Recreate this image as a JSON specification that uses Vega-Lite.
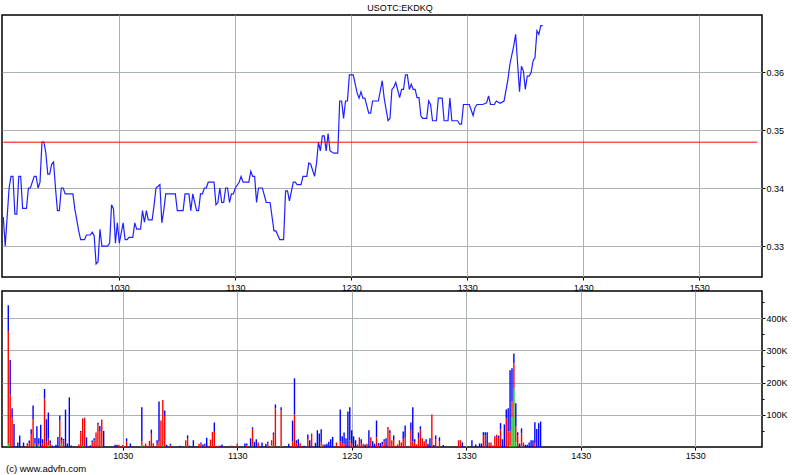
{
  "$schema": "https://vega.github.io/schema/vega-lite/v6.json",
  "background": "white",
  "padding": {"left": 0, "top": 3, "right": 0, "bottom": 0},
  "spacing": 14,
  "bounds": "flush",
  "config": {
    "font": "Liberation Sans",
    "view": {"stroke": "black", "strokeWidth": 1.5},
    "axis": {
      "domain": false,
      "labelFont": "Liberation Sans",
      "labelFontSize": 9,
      "labelColor": "black",
      "tickColor": "black",
      "tickSize": 3,
      "labelPadding": 1,
      "gridColor": "#a9b1b1",
      "gridWidth": 1,
      "title": null
    },
    "title": {"font": "Liberation Sans", "fontSize": 9, "fontWeight": "normal", "color": "black"}
  },
  "vconcat": [
    {
      "width": 760,
      "height": 262,
      "title": {"text": "USOTC:EKDKQ", "anchor": "middle", "offset": 2, "dx": 18},
      "layer": [
        {
          "data": {
            "values": [
              {"t": "09:30", "p": 0.3350}, {"t": "09:31", "p": 0.3300}, {"t": "09:33", "p": 0.3400}, {"t": "09:34", "p": 0.3420},
              {"t": "09:35", "p": 0.3420}, {"t": "09:36", "p": 0.3355}, {"t": "09:37", "p": 0.3355}, {"t": "09:38", "p": 0.3420},
              {"t": "09:39", "p": 0.3420}, {"t": "09:40", "p": 0.3365}, {"t": "09:42", "p": 0.3365}, {"t": "09:43", "p": 0.3400},
              {"t": "09:44", "p": 0.3400}, {"t": "09:46", "p": 0.3420}, {"t": "09:47", "p": 0.3420}, {"t": "09:48", "p": 0.3400},
              {"t": "09:49", "p": 0.3410}, {"t": "09:50", "p": 0.3479}, {"t": "09:51", "p": 0.3479}, {"t": "09:52", "p": 0.3461},
              {"t": "09:53", "p": 0.3424}, {"t": "09:54", "p": 0.3424}, {"t": "09:55", "p": 0.3441}, {"t": "09:56", "p": 0.3445},
              {"t": "09:57", "p": 0.3400}, {"t": "09:58", "p": 0.3361}, {"t": "09:59", "p": 0.3361}, {"t": "10:00", "p": 0.3400},
              {"t": "10:01", "p": 0.3400}, {"t": "10:02", "p": 0.3390}, {"t": "10:06", "p": 0.3390}, {"t": "10:07", "p": 0.3364},
              {"t": "10:09", "p": 0.3326}, {"t": "10:10", "p": 0.3311}, {"t": "10:12", "p": 0.3311}, {"t": "10:13", "p": 0.3319},
              {"t": "10:15", "p": 0.3319}, {"t": "10:16", "p": 0.3324}, {"t": "10:17", "p": 0.3318}, {"t": "10:18", "p": 0.3269},
              {"t": "10:19", "p": 0.3273}, {"t": "10:20", "p": 0.3329}, {"t": "10:21", "p": 0.3300}, {"t": "10:24", "p": 0.3300},
              {"t": "10:25", "p": 0.3305}, {"t": "10:26", "p": 0.3371}, {"t": "10:27", "p": 0.3364}, {"t": "10:28", "p": 0.3305},
              {"t": "10:29", "p": 0.3340}, {"t": "10:30", "p": 0.3305}, {"t": "10:32", "p": 0.3340}, {"t": "10:33", "p": 0.3311},
              {"t": "10:34", "p": 0.3311}, {"t": "10:35", "p": 0.3315}, {"t": "10:37", "p": 0.3315}, {"t": "10:38", "p": 0.3340},
              {"t": "10:39", "p": 0.3329}, {"t": "10:41", "p": 0.3329}, {"t": "10:42", "p": 0.3361}, {"t": "10:43", "p": 0.3341},
              {"t": "10:44", "p": 0.3361}, {"t": "10:45", "p": 0.3345}, {"t": "10:47", "p": 0.3345}, {"t": "10:48", "p": 0.3371},
              {"t": "10:49", "p": 0.3400}, {"t": "10:51", "p": 0.3406}, {"t": "10:52", "p": 0.3340}, {"t": "10:53", "p": 0.3361},
              {"t": "10:54", "p": 0.3390}, {"t": "10:59", "p": 0.3390}, {"t": "11:00", "p": 0.3361}, {"t": "11:03", "p": 0.3361},
              {"t": "11:04", "p": 0.3390}, {"t": "11:06", "p": 0.3390}, {"t": "11:07", "p": 0.3361}, {"t": "11:08", "p": 0.3390},
              {"t": "11:10", "p": 0.3361}, {"t": "11:11", "p": 0.3361}, {"t": "11:12", "p": 0.3390}, {"t": "11:13", "p": 0.3390},
              {"t": "11:14", "p": 0.3400}, {"t": "11:15", "p": 0.3400}, {"t": "11:16", "p": 0.3410}, {"t": "11:19", "p": 0.3410},
              {"t": "11:20", "p": 0.3371}, {"t": "11:21", "p": 0.3375}, {"t": "11:22", "p": 0.3400}, {"t": "11:23", "p": 0.3375},
              {"t": "11:24", "p": 0.3375}, {"t": "11:25", "p": 0.3400}, {"t": "11:26", "p": 0.3400}, {"t": "11:27", "p": 0.3375},
              {"t": "11:28", "p": 0.3390}, {"t": "11:29", "p": 0.3390}, {"t": "11:30", "p": 0.3400}, {"t": "11:32", "p": 0.3410},
              {"t": "11:33", "p": 0.3420}, {"t": "11:34", "p": 0.3410}, {"t": "11:37", "p": 0.3410}, {"t": "11:38", "p": 0.3429},
              {"t": "11:39", "p": 0.3420}, {"t": "11:40", "p": 0.3420}, {"t": "11:41", "p": 0.3375}, {"t": "11:42", "p": 0.3400},
              {"t": "11:44", "p": 0.3400}, {"t": "11:46", "p": 0.3375}, {"t": "11:48", "p": 0.3375}, {"t": "11:50", "p": 0.3326},
              {"t": "11:51", "p": 0.3326}, {"t": "11:53", "p": 0.3311}, {"t": "11:55", "p": 0.3311}, {"t": "11:56", "p": 0.3395},
              {"t": "11:57", "p": 0.3395}, {"t": "11:58", "p": 0.3378}, {"t": "12:00", "p": 0.3410}, {"t": "12:01", "p": 0.3410},
              {"t": "12:02", "p": 0.3406}, {"t": "12:04", "p": 0.3406}, {"t": "12:05", "p": 0.3420}, {"t": "12:07", "p": 0.3420},
              {"t": "12:08", "p": 0.3443}, {"t": "12:09", "p": 0.3441}, {"t": "12:11", "p": 0.3420}, {"t": "12:12", "p": 0.3443},
              {"t": "12:13", "p": 0.3479}, {"t": "12:14", "p": 0.3464}, {"t": "12:15", "p": 0.3490}, {"t": "12:16", "p": 0.3490},
              {"t": "12:17", "p": 0.3464}, {"t": "12:18", "p": 0.3494}, {"t": "12:19", "p": 0.3464}, {"t": "12:21", "p": 0.3460},
              {"t": "12:23", "p": 0.3460}, {"t": "12:24", "p": 0.3550}, {"t": "12:25", "p": 0.3550}, {"t": "12:26", "p": 0.3520},
              {"t": "12:27", "p": 0.3550}, {"t": "12:28", "p": 0.3550}, {"t": "12:29", "p": 0.3595}, {"t": "12:31", "p": 0.3595},
              {"t": "12:33", "p": 0.3564}, {"t": "12:34", "p": 0.3555}, {"t": "12:35", "p": 0.3566}, {"t": "12:36", "p": 0.3555},
              {"t": "12:37", "p": 0.3555}, {"t": "12:39", "p": 0.3529}, {"t": "12:40", "p": 0.3529}, {"t": "12:41", "p": 0.3550},
              {"t": "12:44", "p": 0.3550}, {"t": "12:46", "p": 0.3585}, {"t": "12:47", "p": 0.3555}, {"t": "12:49", "p": 0.3516},
              {"t": "12:50", "p": 0.3520}, {"t": "12:51", "p": 0.3570}, {"t": "12:52", "p": 0.3574}, {"t": "12:53", "p": 0.3582},
              {"t": "12:55", "p": 0.3556}, {"t": "12:56", "p": 0.3570}, {"t": "12:57", "p": 0.3570}, {"t": "12:58", "p": 0.3595},
              {"t": "12:59", "p": 0.3595}, {"t": "13:00", "p": 0.3570}, {"t": "13:01", "p": 0.3579}, {"t": "13:02", "p": 0.3570},
              {"t": "13:03", "p": 0.3570}, {"t": "13:04", "p": 0.3556}, {"t": "13:05", "p": 0.3556}, {"t": "13:06", "p": 0.3524},
              {"t": "13:07", "p": 0.3520}, {"t": "13:09", "p": 0.3520}, {"t": "13:10", "p": 0.3550}, {"t": "13:11", "p": 0.3544},
              {"t": "13:12", "p": 0.3516}, {"t": "13:14", "p": 0.3516}, {"t": "13:15", "p": 0.3555}, {"t": "13:17", "p": 0.3555},
              {"t": "13:18", "p": 0.3516}, {"t": "13:20", "p": 0.3516}, {"t": "13:21", "p": 0.3555}, {"t": "13:22", "p": 0.3516},
              {"t": "13:25", "p": 0.3516}, {"t": "13:26", "p": 0.3510}, {"t": "13:27", "p": 0.3510}, {"t": "13:28", "p": 0.3544},
              {"t": "13:31", "p": 0.3544}, {"t": "13:33", "p": 0.3525}, {"t": "13:34", "p": 0.3539}, {"t": "13:35", "p": 0.3544},
              {"t": "13:38", "p": 0.3544}, {"t": "13:40", "p": 0.3547}, {"t": "13:41", "p": 0.3559}, {"t": "13:42", "p": 0.3544},
              {"t": "13:44", "p": 0.3544}, {"t": "13:45", "p": 0.3550}, {"t": "13:47", "p": 0.3546}, {"t": "13:49", "p": 0.3550},
              {"t": "13:51", "p": 0.3587}, {"t": "13:52", "p": 0.3613}, {"t": "13:54", "p": 0.3645}, {"t": "13:55", "p": 0.3665},
              {"t": "13:57", "p": 0.3566}, {"t": "13:58", "p": 0.3610}, {"t": "13:59", "p": 0.3602}, {"t": "14:00", "p": 0.3570},
              {"t": "14:01", "p": 0.3593}, {"t": "14:02", "p": 0.3593}, {"t": "14:03", "p": 0.3599}, {"t": "14:04", "p": 0.3619},
              {"t": "14:05", "p": 0.3625}, {"t": "14:06", "p": 0.3671}, {"t": "14:07", "p": 0.3665}, {"t": "14:08", "p": 0.3680},
              {"t": "14:09", "p": 0.3680}
            ],
            "format": {"parse": {"t": "date:'%H:%M'"}}
          },
          "mark": {"type": "line", "color": "#2020ff", "strokeWidth": 1.2},
          "encoding": {
            "x": {
              "field": "t", "type": "temporal",
              "scale": {"domain": [
                {"year": 1900, "month": 1, "date": 1, "hours": 9, "minutes": 29, "seconds": 20},
                {"year": 1900, "month": 1, "date": 1, "hours": 16, "minutes": 2, "seconds": 25}
              ]},
              "axis": {
                "values": [
                  {"year": 1900, "month": 1, "date": 1, "hours": 10, "minutes": 30},
                  {"year": 1900, "month": 1, "date": 1, "hours": 11, "minutes": 30},
                  {"year": 1900, "month": 1, "date": 1, "hours": 12, "minutes": 30},
                  {"year": 1900, "month": 1, "date": 1, "hours": 13, "minutes": 30},
                  {"year": 1900, "month": 1, "date": 1, "hours": 14, "minutes": 30},
                  {"year": 1900, "month": 1, "date": 1, "hours": 15, "minutes": 30}
                ],
                "format": "%H%M", "grid": true, "labelFlush": false, "labelPadding": 3
              }
            },
            "y": {
              "field": "p", "type": "quantitative",
              "scale": {"domain": [0.32466, 0.36983], "zero": false, "nice": false},
              "axis": {
                "orient": "right",
                "values": [0.33, 0.335, 0.34, 0.345, 0.35, 0.355, 0.36, 0.365],
                "labelExpr": "abs(datum.value*100 - round(datum.value*100)) < 0.001 ? format(datum.value, '.2f') : ''",
                "grid": true,
                "gridOpacity": {"condition": {"test": "abs(datum.value*100 - round(datum.value*100)) < 0.001", "value": 1}, "value": 0},
                "tickSize": {"condition": {"test": "abs(datum.value*100 - round(datum.value*100)) < 0.001", "value": 3}, "value": 2}
              }
            }
          }
        },
        {
          "data": {"values": [{"t0": "09:30", "t1": "16:00", "prev_close": 0.3479}], "format": {"parse": {"t0": "date:'%H:%M'", "t1": "date:'%H:%M'"}}},
          "mark": {"type": "rule", "color": "#ff0000", "strokeWidth": 1},
          "encoding": {
            "x": {"field": "t0", "type": "temporal"},
            "x2": {"field": "t1"},
            "y": {"field": "prev_close", "type": "quantitative"}
          }
        },
        {
          "data": {"values": [{"t": "16:00"}], "format": {"parse": {"t": "date:'%H:%M'"}}},
          "mark": {"type": "rule", "color": "#808080", "strokeWidth": 1},
          "encoding": {"x": {"field": "t", "type": "temporal"}}
        }
      ]
    },
    {
      "width": 760,
      "height": 156,
      "title": {"text": "(c) www.advfn.com", "orient": "bottom", "anchor": "start", "offset": 4, "fontSize": 9.5, "dx": 4},
      "layer": [
        {
          "data": {
            "values": [
              {"t": "09:30", "bid": 350, "mid": 10, "ask": 80}, {"t": "09:31", "bid": 162, "ask": 108}, {"t": "09:32", "bid": 90, "ask": 30},
              {"t": "09:33", "ask": 71}, {"t": "09:35", "ask": 14}, {"t": "09:36", "ask": 36}, {"t": "09:38", "ask": 14},
              {"t": "09:40", "bid": 12}, {"t": "09:41", "bid": 12, "ask": 8}, {"t": "09:42", "bid": 40, "ask": 15},
              {"t": "09:43", "bid": 87, "ask": 42}, {"t": "09:44", "bid": 8, "mid": 4, "ask": 16}, {"t": "09:45", "ask": 64},
              {"t": "09:46", "bid": 5, "mid": 5, "ask": 17}, {"t": "09:47", "ask": 69}, {"t": "09:48", "bid": 12, "ask": 12},
              {"t": "09:49", "bid": 150, "ask": 30}, {"t": "09:50", "bid": 18, "ask": 68}, {"t": "09:51", "bid": 22, "mid": 4, "ask": 81},
              {"t": "09:52", "bid": 10, "ask": 10}, {"t": "09:53", "ask": 5}, {"t": "09:55", "ask": 7}, {"t": "09:56", "ask": 31},
              {"t": "09:57", "bid": 82, "ask": 16}, {"t": "09:58", "bid": 10, "mid": 10, "ask": 10}, {"t": "09:59", "bid": 20, "ask": 5},
              {"t": "10:00", "ask": 116}, {"t": "10:01", "ask": 11}, {"t": "10:02", "ask": 154}, {"t": "10:03", "ask": 5},
              {"t": "10:07", "bid": 8}, {"t": "10:08", "bid": 46, "ask": 4}, {"t": "10:09", "bid": 86, "mid": 3}, {"t": "10:10", "bid": 89, "ask": 2},
              {"t": "10:11", "ask": 30}, {"t": "10:13", "ask": 5}, {"t": "10:14", "bid": 15, "ask": 5}, {"t": "10:15", "bid": 20, "ask": 7},
              {"t": "10:16", "bid": 45}, {"t": "10:17", "bid": 69, "ask": 6}, {"t": "10:18", "bid": 50, "ask": 15}, {"t": "10:19", "bid": 82, "mid": 3},
              {"t": "10:20", "ask": 50}, {"t": "10:26", "ask": 7}, {"t": "10:27", "ask": 7}, {"t": "10:28", "bid": 7},
              {"t": "10:30", "bid": 6}, {"t": "10:32", "bid": 18, "ask": 9}, {"t": "10:34", "ask": 11}, {"t": "10:40", "bid": 12, "mid": 6, "ask": 105},
              {"t": "10:41", "bid": 5}, {"t": "10:42", "bid": 11}, {"t": "10:44", "bid": 19}, {"t": "10:45", "bid": 41, "ask": 13},
              {"t": "10:46", "bid": 12}, {"t": "10:48", "bid": 10, "ask": 11}, {"t": "10:49", "bid": 16, "ask": 125}, {"t": "10:50", "bid": 82},
              {"t": "10:51", "bid": 143, "mid": 3}, {"t": "10:52", "bid": 97, "ask": 16}, {"t": "10:53", "ask": 7}, {"t": "10:55", "bid": 5, "ask": 5},
              {"t": "11:00", "ask": 4}, {"t": "11:03", "bid": 21}, {"t": "11:04", "bid": 28, "ask": 8}, {"t": "11:05", "ask": 4},
              {"t": "11:07", "ask": 21}, {"t": "11:10", "bid": 10}, {"t": "11:11", "bid": 10, "ask": 4}, {"t": "11:12", "ask": 8},
              {"t": "11:13", "bid": 5, "ask": 5}, {"t": "11:14", "ask": 29}, {"t": "11:16", "bid": 23}, {"t": "11:17", "bid": 47},
              {"t": "11:18", "bid": 47, "ask": 29}, {"t": "11:20", "bid": 4}, {"t": "11:21", "ask": 4}, {"t": "11:22", "ask": 8},
              {"t": "11:26", "bid": 4}, {"t": "11:27", "bid": 4}, {"t": "11:30", "bid": 11}, {"t": "11:34", "ask": 11},
              {"t": "11:35", "bid": 5, "ask": 6}, {"t": "11:37", "ask": 27}, {"t": "11:38", "bid": 54, "mid": 2, "ask": 5}, {"t": "11:39", "ask": 16},
              {"t": "11:40", "ask": 24}, {"t": "11:41", "bid": 14}, {"t": "11:43", "ask": 14}, {"t": "11:45", "ask": 10},
              {"t": "11:46", "bid": 11, "ask": 5}, {"t": "11:48", "bid": 15, "mid": 6}, {"t": "11:49", "bid": 38, "ask": 7}, {"t": "11:50", "bid": 120, "ask": 12},
              {"t": "11:53", "bid": 110, "mid": 3, "ask": 10}, {"t": "11:57", "ask": 10}, {"t": "11:59", "bid": 18, "ask": 64},
              {"t": "12:00", "bid": 100, "mid": 1, "ask": 112}, {"t": "12:01", "bid": 12, "ask": 9}, {"t": "12:02", "ask": 24}, {"t": "12:03", "bid": 12},
              {"t": "12:05", "ask": 4}, {"t": "12:07", "bid": 25, "ask": 14}, {"t": "12:08", "ask": 21}, {"t": "12:09", "bid": 42},
              {"t": "12:11", "ask": 13}, {"t": "12:12", "ask": 52}, {"t": "12:13", "ask": 42}, {"t": "12:14", "bid": 10, "mid": 4, "ask": 41},
              {"t": "12:15", "bid": 8}, {"t": "12:16", "ask": 8}, {"t": "12:17", "ask": 10}, {"t": "12:18", "ask": 16},
              {"t": "12:19", "ask": 24}, {"t": "12:20", "ask": 31}, {"t": "12:22", "bid": 14}, {"t": "12:24", "bid": 18, "ask": 98},
              {"t": "12:25", "bid": 10, "ask": 23}, {"t": "12:26", "bid": 10, "ask": 35}, {"t": "12:27", "ask": 27}, {"t": "12:28", "ask": 110},
              {"t": "12:29", "bid": 21, "ask": 102}, {"t": "12:30", "bid": 10, "ask": 42}, {"t": "12:31", "ask": 33}, {"t": "12:32", "ask": 21},
              {"t": "12:33", "bid": 8}, {"t": "12:34", "bid": 30}, {"t": "12:35", "bid": 10, "ask": 14}, {"t": "12:36", "bid": 10},
              {"t": "12:37", "ask": 8}, {"t": "12:38", "bid": 10}, {"t": "12:39", "ask": 52}, {"t": "12:40", "bid": 30},
              {"t": "12:41", "ask": 18}, {"t": "12:42", "ask": 10}, {"t": "12:43", "bid": 30, "ask": 52}, {"t": "12:44", "bid": 6, "ask": 6},
              {"t": "12:45", "ask": 12}, {"t": "12:46", "bid": 8, "ask": 8}, {"t": "12:47", "bid": 18, "ask": 6}, {"t": "12:48", "ask": 27},
              {"t": "12:49", "bid": 62}, {"t": "12:50", "bid": 43, "ask": 9}, {"t": "12:51", "bid": 21}, {"t": "12:52", "bid": 21, "ask": 15},
              {"t": "12:54", "bid": 8}, {"t": "12:55", "bid": 21}, {"t": "12:56", "bid": 14}, {"t": "12:57", "bid": 23, "ask": 25},
              {"t": "12:58", "bid": 29, "ask": 38}, {"t": "13:01", "bid": 52, "ask": 24}, {"t": "13:02", "bid": 18, "ask": 105},
              {"t": "13:03", "bid": 14, "ask": 10}, {"t": "13:04", "bid": 8}, {"t": "13:05", "bid": 27, "ask": 18}, {"t": "13:06", "bid": 54, "ask": 10},
              {"t": "13:07", "bid": 27}, {"t": "13:08", "bid": 18}, {"t": "13:09", "bid": 14, "ask": 10}, {"t": "13:10", "ask": 10},
              {"t": "13:11", "ask": 27}, {"t": "13:12", "bid": 101}, {"t": "13:13", "ask": 6}, {"t": "13:14", "bid": 23, "ask": 13},
              {"t": "13:16", "bid": 18, "ask": 12}, {"t": "13:18", "ask": 6}, {"t": "13:26", "bid": 21}, {"t": "13:27", "bid": 21},
              {"t": "13:28", "ask": 14}, {"t": "13:33", "ask": 21}, {"t": "13:35", "ask": 8}, {"t": "13:37", "ask": 11},
              {"t": "13:38", "ask": 11}, {"t": "13:39", "bid": 36, "ask": 10}, {"t": "13:40", "bid": 36, "ask": 10}, {"t": "13:41", "ask": 46},
              {"t": "13:42", "bid": 14}, {"t": "13:43", "bid": 14}, {"t": "13:44", "bid": 5}, {"t": "13:45", "bid": 31, "ask": 2},
              {"t": "13:46", "bid": 38}, {"t": "13:47", "bid": 28, "ask": 7}, {"t": "13:48", "bid": 54, "ask": 20}, {"t": "13:49", "ask": 24},
              {"t": "13:50", "ask": 70}, {"t": "13:51", "bid": 89, "ask": 27}, {"t": "13:52", "bid": 48, "ask": 72},
              {"t": "13:53", "bid": 43, "mid": 5, "ask": 190}, {"t": "13:54", "bid": 48, "mid": 93, "ask": 103}, {"t": "13:55", "bid": 76, "mid": 183, "ask": 31},
              {"t": "13:56", "bid": 48, "mid": 15, "ask": 73}, {"t": "13:57", "bid": 36, "ask": 10}, {"t": "13:58", "ask": 11},
              {"t": "13:59", "bid": 40, "mid": 3, "ask": 15}, {"t": "14:00", "bid": 14}, {"t": "14:01", "ask": 7}, {"t": "14:02", "ask": 7},
              {"t": "14:03", "ask": 14}, {"t": "14:04", "ask": 21}, {"t": "14:05", "ask": 21}, {"t": "14:06", "bid": 12, "ask": 65},
              {"t": "14:07", "ask": 56}, {"t": "14:08", "ask": 74}, {"t": "14:09", "ask": 79}
            ],
            "format": {"parse": {"t": "date:'%H:%M'"}}
          },
          "transform": [
            {"fold": ["bid", "mid", "ask"], "as": ["side", "volume_k"]},
            {"filter": "isValid(datum.volume_k)"}
          ],
          "mark": {"type": "bar", "size": 1.4},
          "encoding": {
            "x": {
              "field": "t", "type": "temporal",
              "scale": {"domain": [
                {"year": 1900, "month": 1, "date": 1, "hours": 9, "minutes": 29, "seconds": 20},
                {"year": 1900, "month": 1, "date": 1, "hours": 16, "minutes": 2, "seconds": 25}
              ]},
              "axis": {
                "values": [
                  {"year": 1900, "month": 1, "date": 1, "hours": 10, "minutes": 30},
                  {"year": 1900, "month": 1, "date": 1, "hours": 11, "minutes": 30},
                  {"year": 1900, "month": 1, "date": 1, "hours": 12, "minutes": 30},
                  {"year": 1900, "month": 1, "date": 1, "hours": 13, "minutes": 30},
                  {"year": 1900, "month": 1, "date": 1, "hours": 14, "minutes": 30},
                  {"year": 1900, "month": 1, "date": 1, "hours": 15, "minutes": 30}
                ],
                "format": "%H%M", "grid": true, "labelFlush": false, "labelPadding": 1
              }
            },
            "y": {
              "field": "volume_k", "type": "quantitative", "stack": "zero",
              "scale": {"domain": [0, 484], "nice": false},
              "axis": {
                "orient": "right",
                "values": [50, 100, 150, 200, 250, 300, 350, 400, 450],
                "labelExpr": "datum.value % 100 === 0 ? datum.value + 'K' : ''",
                "grid": true,
                "gridOpacity": {"condition": {"test": "datum.value % 100 === 0", "value": 1}, "value": 0},
                "tickSize": {"condition": {"test": "datum.value % 100 === 0", "value": 3}, "value": 2}
              }
            },
            "color": {
              "field": "side", "type": "nominal", "sort": ["bid", "mid", "ask"],
              "scale": {"domain": ["bid", "mid", "ask"], "range": ["#ff0000", "#00c000", "#0000ff"]},
              "legend": null
            }
          }
        },
        {
          "data": {"values": [{"t": "16:00"}], "format": {"parse": {"t": "date:'%H:%M'"}}},
          "mark": {"type": "rule", "color": "#808080", "strokeWidth": 1},
          "encoding": {"x": {"field": "t", "type": "temporal"}}
        }
      ]
    }
  ]
}
